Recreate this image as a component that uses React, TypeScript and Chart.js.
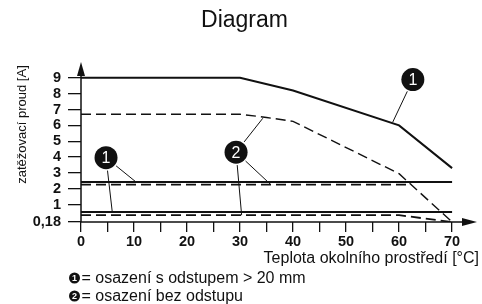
import React, { useEffect, useRef } from 'react';
import { Chart, registerables } from 'chart.js';

Chart.register(...registerables);

// Axis ticks
const xTickValues = [0, 5, 10, 15, 20, 25, 30, 35, 40, 45, 50, 55, 60, 65, 70];
const yTickValues = [-0.1, 1, 2, 3, 4, 5, 6, 7, 8, 9];
const yTickLabels = ['0,18', '1', '2', '3', '4', '5', '6', '7', '8', '9'];

// Curve 1 (with spacing > 20 mm), derating curve
const curve1X = [0, 30, 40, 60, 70];
const curve1Y = [9, 9, 8.2, 6, 3.3];
// Curve 2 (no spacing), derating curve
const curve2X = [0, 30, 35, 40, 60, 70];
const curve2Y = [6.7, 6.7, 6.5, 6.25, 2.95, -0.1];
// Mid current lines
const mid1X = [0, 70];
const mid1Y = [2.42, 2.42];
const mid2X = [0, 62.3];
const mid2Y = [2.26, 2.26];
// Low current lines
const low1X = [0, 70];
const low1Y = [0.53, 0.53];
const low2X = [0, 60, 70];
const low2Y = [0.33, 0.33, -0.1];

// Callout markers: label, centre (data units), leader targets (data units)
const callouts = [
  { label: '1', cx: 62.6, cy: 8.89, targets: [[58.8, 6.2]] },
  { label: '1', cx: 4.72, cy: 3.96, targets: [[5.9, 0.53], [10.4, 2.42]] },
  { label: '2', cx: 29.25, cy: 4.31, targets: [[34.3, 6.45], [35.8, 2.26], [30.3, 0.33]] },
];

const titleText = 'Diagram';
const yTitle = 'zatěžovací proud [A]';
const xTitle = 'Teplota okolního prostředí [°C]';
const legendItems = [
  { label: '1', text: '= osazení s odstupem > 20 mm' },
  { label: '2', text: '= osazení bez odstupu' },
];

const INK = '#111';
const FONT = '"Liberation Sans", Arial, sans-serif';

function pts(xs: number[], ys: number[]) {
  return xs.map((x, i) => ({ x, y: ys[i] }));
}

const overlay = {
  id: 'overlay',
  afterDraw(chart: any) {
    const ctx = chart.ctx as CanvasRenderingContext2D;
    const xs = chart.scales.x;
    const ys = chart.scales.y;
    const area = chart.chartArea;
    const x0 = xs.getPixelForValue(0);
    const yb = ys.getPixelForValue(-0.1);
    ctx.save();
    ctx.strokeStyle = INK;
    ctx.fillStyle = INK;
    // axes
    ctx.lineWidth = 1.5;
    ctx.beginPath();
    ctx.moveTo(x0, yb);
    ctx.lineTo(x0, area.top + 10);
    ctx.moveTo(x0, yb);
    ctx.lineTo(area.right - 10, yb);
    ctx.stroke();
    ctx.beginPath();
    ctx.moveTo(x0, area.top);
    ctx.lineTo(x0 - 4, area.top + 14);
    ctx.lineTo(x0 + 4, area.top + 14);
    ctx.closePath();
    ctx.fill();
    ctx.beginPath();
    ctx.moveTo(area.right, yb);
    ctx.lineTo(area.right - 15, yb - 4);
    ctx.lineTo(area.right - 15, yb + 4);
    ctx.closePath();
    ctx.fill();

    // callouts
    const R = 11.5;
    callouts.forEach((c) => {
      const cx = xs.getPixelForValue(c.cx);
      const cy = ys.getPixelForValue(c.cy);
      ctx.lineWidth = 1;
      ctx.strokeStyle = INK;
      c.targets.forEach(([tx, ty]) => {
        const px = xs.getPixelForValue(tx);
        const py = ys.getPixelForValue(ty);
        const d = Math.hypot(px - cx, py - cy);
        const sx = cx + ((px - cx) / d) * (R + 1.5);
        const sy = cy + ((py - cy) / d) * (R + 1.5);
        ctx.beginPath();
        ctx.moveTo(sx, sy);
        ctx.lineTo(px, py);
        ctx.stroke();
      });
      ctx.beginPath();
      ctx.arc(cx, cy, R, 0, Math.PI * 2);
      ctx.fillStyle = INK;
      ctx.fill();
      ctx.fillStyle = '#fff';
      ctx.font = `16px ${FONT}`;
      ctx.textAlign = 'center';
      ctx.textBaseline = 'middle';
      ctx.fillText(c.label, cx, cy + 1);
    });

    // title
    ctx.fillStyle = INK;
    ctx.font = `23px ${FONT}`;
    ctx.textAlign = 'center';
    ctx.textBaseline = 'middle';
    ctx.fillText(titleText, 244.5, 21);

    // y title
    ctx.save();
    ctx.translate(22.5, 124.5);
    ctx.rotate(-Math.PI / 2);
    ctx.font = `13px ${FONT}`;
    ctx.textAlign = 'center';
    ctx.textBaseline = 'middle';
    ctx.fillText(yTitle, 0, 0);
    ctx.restore();

    // x title
    ctx.font = `16px ${FONT}`;
    ctx.textAlign = 'right';
    ctx.textBaseline = 'middle';
    ctx.fillText(xTitle, 479, 259);

    // legend
    legendItems.forEach((it, i) => {
      const cy = 278 + i * 18;
      ctx.beginPath();
      ctx.arc(74.5, cy, 5.5, 0, Math.PI * 2);
      ctx.fillStyle = INK;
      ctx.fill();
      ctx.fillStyle = '#fff';
      ctx.font = `bold 9px ${FONT}`;
      ctx.textAlign = 'center';
      ctx.textBaseline = 'middle';
      ctx.fillText(it.label, 74.5, cy + 0.5);
      ctx.fillStyle = INK;
      ctx.font = `16px ${FONT}`;
      ctx.textAlign = 'left';
      ctx.fillText(it.text, 81.5, cy + 1);
    });
    ctx.restore();
  },
};

export default function App() {
  const ref = useRef<HTMLCanvasElement | null>(null);
  useEffect(() => {
    document.body.style.margin = '0';
    if (!ref.current) return;
    const solid = { borderColor: INK, borderWidth: 2, pointRadius: 0, tension: 0, fill: false };
    const chart = new Chart(ref.current, {
      type: 'line',
      data: {
        datasets: [
          { ...solid, data: pts(curve1X, curve1Y) },
          { ...solid, borderWidth: 1.4, borderDash: [10, 5], data: pts(curve2X, curve2Y) },
          { ...solid, data: pts(mid1X, mid1Y) },
          { ...solid, borderWidth: 1.8, borderDash: [10, 5], data: pts(mid2X, mid2Y) },
          { ...solid, data: pts(low1X, low1Y) },
          { ...solid, borderWidth: 1.8, borderDash: [10, 5], data: pts(low2X, low2Y) },
        ] as any,
      },
      options: {
        animation: false,
        responsive: true,
        maintainAspectRatio: false,
        layout: { padding: { left: 0, top: 62, right: 5, bottom: 0 } },
        plugins: { legend: { display: false }, tooltip: { enabled: false }, title: { display: false } },
        scales: {
          x: {
            type: 'linear',
            min: 0,
            max: 74.7,
            afterBuildTicks: (s: any) => {
              s.ticks = xTickValues.map((v) => ({ value: v }));
            },
            afterFit: (s: any) => {
              s.height = 82;
            },
            border: { display: false },
            grid: { drawOnChartArea: false, drawTicks: true, tickLength: 10, color: INK, lineWidth: 1.3 },
            ticks: {
              autoSkip: false,
              maxRotation: 0,
              padding: 1,
              color: INK,
              font: { family: FONT, size: 14.5, weight: 'bold' },
              callback: (v: any) => (Number(v) % 10 === 0 ? String(v) : ''),
            },
          },
          y: {
            type: 'linear',
            min: -0.1,
            max: 10,
            afterBuildTicks: (s: any) => {
              s.ticks = yTickValues.map((v) => ({ value: v }));
            },
            afterFit: (s: any) => {
              s.width = 81;
            },
            border: { display: false },
            grid: { drawOnChartArea: false, drawTicks: true, tickLength: 13, color: INK, lineWidth: 1.3 },
            ticks: {
              autoSkip: false,
              padding: 7,
              color: INK,
              font: { family: FONT, size: 14.5, weight: 'bold' },
              callback: (_v: any, i: number) => yTickLabels[i],
            },
          },
        },
      },
      plugins: [overlay],
    });
    return () => chart.destroy();
  }, []);
  return (
    <div style={{ width: 482, height: 304, position: 'relative' }}>
      <canvas ref={ref} />
    </div>
  );
}
